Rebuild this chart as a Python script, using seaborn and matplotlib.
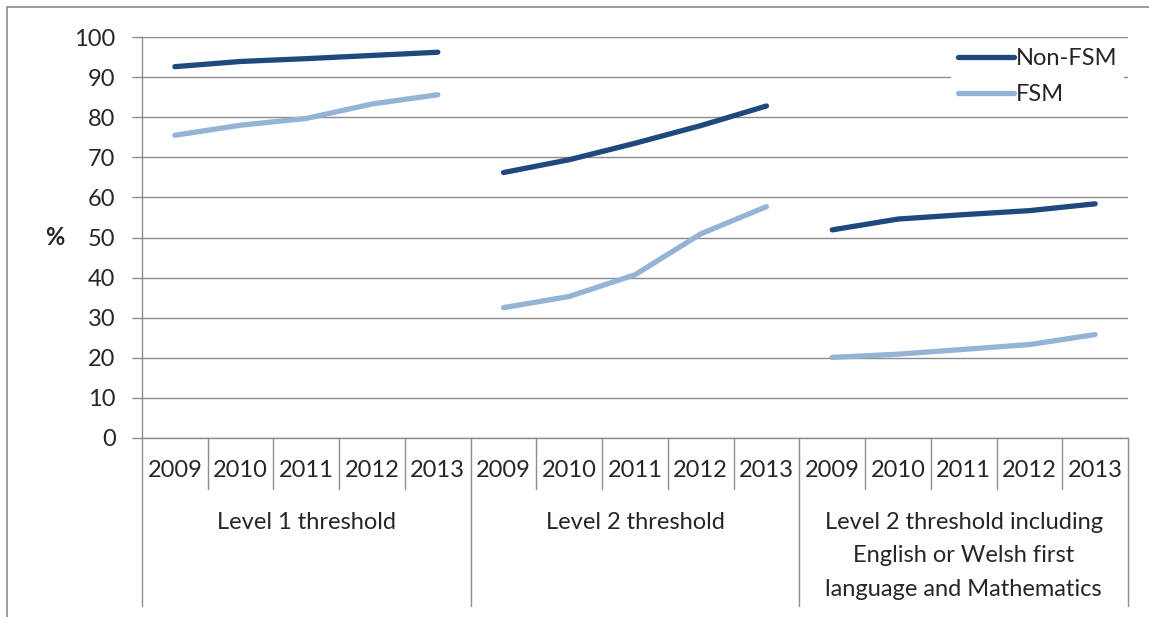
import pandas as pd
import seaborn as sns
import matplotlib.pyplot as plt
from matplotlib.lines import Line2D

years = ['2009', '2010', '2011', '2012', '2013']
groups = ['Level 1 threshold', 'Level 2 threshold',
          'Level 2 threshold including\nEnglish or Welsh first\nlanguage and Mathematics']
non_fsm = [92.6, 93.9, 94.6, 95.4, 96.2,
           66.2, 69.4, 73.5, 77.9, 82.8,
           51.9, 54.6, 55.7, 56.7, 58.4]
fsm = [75.5, 78.0, 79.7, 83.3, 85.6,
       32.5, 35.3, 40.7, 50.9, 57.7,
       20.1, 20.9, 22.1, 23.3, 25.8]

rows = []
for series, vals in (('Non-FSM', non_fsm), ('FSM', fsm)):
    for i, v in enumerate(vals):
        rows.append({'pos': i, 'group': i // 5, 'year': years[i % 5],
                     'series': series, 'value': v})
df = pd.DataFrame(rows)

sns.set_style('white')
plt.rcParams['font.family'] = ['Lato', 'DejaVu Sans']
fs = 17

fig = plt.figure(figsize=(11.49, 6.17), dpi=100)
ax = fig.add_axes([142 / 1149, 1 - 438 / 617, (1128 - 142) / 1149, 401 / 617])

grid_c = '#8c8c8c'
ax.set_ylim(0, 100)
ax.set_xlim(-0.5, 14.5)
ax.set_yticks(range(0, 101, 10))
ax.yaxis.grid(True, color=grid_c, lw=1.0)
ax.set_axisbelow(True)

sns.lineplot(data=df, x='pos', y='value', hue='series', units='group',
             estimator=None, palette={'Non-FSM': '#1f497d', 'FSM': '#95b3d7'},
             lw=3.8, solid_capstyle='round', ax=ax)

for s in ('top', 'right'):
    ax.spines[s].set_visible(False)
for s in ('left', 'bottom'):
    ax.spines[s].set_color(grid_c)
    ax.spines[s].set_linewidth(1.0)

ax.tick_params(axis='y', left=True, length=7, width=1.0, color=grid_c,
               labelsize=fs, pad=12)
ax.set_xticks([])
ax.set_xlabel('')
ax.set_ylabel('%', rotation=0, fontsize=fs, fontweight='bold', labelpad=14, va='center')

# multi-level category axis
tr = ax.get_xaxis_transform()
for b in range(16):
    x = b - 0.5
    y_end = -0.419 if b % 5 == 0 else -0.127
    ax.add_line(Line2D([x, x], [0, y_end], transform=tr, color=grid_c,
                       lw=1.0, clip_on=False))
for i in range(15):
    ax.text(i, -0.08, years[i % 5], transform=tr, ha='center', va='center',
            fontsize=fs)
for g, name in enumerate(groups):
    n = name.count('\n')
    ax.text(g * 5 + 2, -0.21 - 0.042 * n, name, transform=tr, ha='center',
            va='center', fontsize=fs, linespacing=1.75)

leg = ax.legend(loc='upper right', bbox_to_anchor=(0.996, 0.99), frameon=True,
                fontsize=fs, handlelength=2.4, handletextpad=0.05,
                labelspacing=0.65, borderpad=0.3, borderaxespad=0.0)
leg.get_frame().set_facecolor('white')
leg.get_frame().set_edgecolor('none')
leg.get_frame().set_alpha(1)

# outer chart frame
fig.add_artist(Line2D([7 / 1149, 7 / 1149], [0, 1 - 7 / 617], color=grid_c, lw=1.2))
fig.add_artist(Line2D([7 / 1149, 1], [1 - 7 / 617, 1 - 7 / 617], color=grid_c, lw=1.2))

fig.savefig('out.png', dpi=100)
